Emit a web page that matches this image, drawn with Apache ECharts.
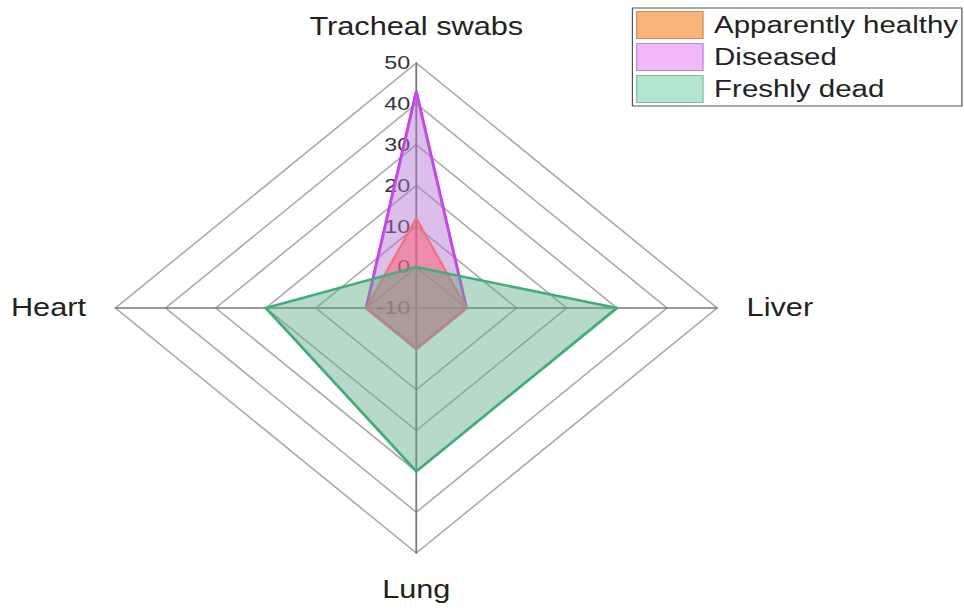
<!DOCTYPE html>
<html>
<head>
<meta charset="utf-8">
<script src="https://cdn.jsdelivr.net/npm/echarts@6/dist/echarts.min.js"></script>
<style>
  html, body { margin: 0; padding: 0; background: #ffffff; overflow: hidden; width: 964px; height: 610px; }
  #c { width: 785px; height: 610px; transform: scaleX(1.228); transform-origin: 0 0; }
</style>
</head>
<body>
<div id="c"></div>
<script>
// Indicators (ECharts places them counter-clockwise from the top)
const indicatorNames = ['Tracheal swabs', 'Heart', 'Lung', 'Liver'];
const axisMin = -10;
const axisMax = 50;

const seriesNames = ['Apparently healthy', 'Diseased', 'Freshly dead'];
const apparentlyHealthy = [12, 0, 0, 0];
const diseased = [43, 0, 0, 0];
const freshlyDead = [0, 20, 30, 30];

const font = "'Liberation Sans', Arial, sans-serif";

const chart = echarts.init(document.getElementById('c'), null, { renderer: 'svg' });

const indicator = indicatorNames.map((n, i) => {
  const o = { name: n, min: axisMin, max: axisMax };
  if (i === 0) o.axisLabel = { show: true };
  return o;
});

function radarSeries(name, values, lineColor, fillColor, fillOpacity, lineWidth, z) {
  return {
    type: 'radar',
    name: name,
    z: z,
    symbol: 'none',
    lineStyle: { color: lineColor, width: lineWidth },
    areaStyle: { color: fillColor, opacity: fillOpacity },
    itemStyle: { color: lineColor },
    data: [{ value: values, name: name }]
  };
}

chart.setOption({
  backgroundColor: '#ffffff',
  animation: false,
  legend: {
    orient: 'vertical',
    left: 515,
    top: 8,
    padding: [3, 3, 3, 3],
    itemWidth: 54,
    itemHeight: 27,
    itemGap: 4,
    icon: 'rect',
    backgroundColor: '#ffffff',
    borderColor: '#555555',
    borderWidth: 1,
    borderRadius: 0,
    selectedMode: false,
    textStyle: { fontFamily: font, fontSize: 24, color: '#222222', padding: [0, 0, 0, 4] },
    data: [
      { name: seriesNames[0], itemStyle: { color: '#f9b47a', borderColor: '#c98c58', borderWidth: 1 } },
      { name: seriesNames[1], itemStyle: { color: '#f1b8fa', borderColor: '#b88ac8', borderWidth: 1 } },
      { name: seriesNames[2], itemStyle: { color: '#b3e6d0', borderColor: '#86b8a2', borderWidth: 1 } }
    ]
  },
  radar: {
    center: [339, 308],
    radius: 245,
    startAngle: 90,
    shape: 'polygon',
    splitNumber: 6,
    nameGap: 24,
    axisName: { color: '#222222', fontSize: 25, fontFamily: font },
    axisLine: { show: true, lineStyle: { color: '#7a7a7a', width: 1.5 } },
    splitLine: { show: true, lineStyle: { color: '#acacac', width: 1.5 } },
    splitArea: { show: false },
    axisTick: { show: false },
    axisLabel: { show: false, fontSize: 19, fontFamily: font, color: '#333333', margin: 5 },
    indicator: indicator
  },
  series: [
    radarSeries(seriesNames[1], diseased, '#cc3cee', '#b070d0', 0.45, 2.5, 2),
    radarSeries(seriesNames[0], apparentlyHealthy, '#f07a80', '#ff5a6e', 0.5, 2, 3),
    radarSeries(seriesNames[2], freshlyDead, '#3aae74', '#5fae85', 0.45, 2.5, 4)
  ]
});
</script>
</body>
</html>
